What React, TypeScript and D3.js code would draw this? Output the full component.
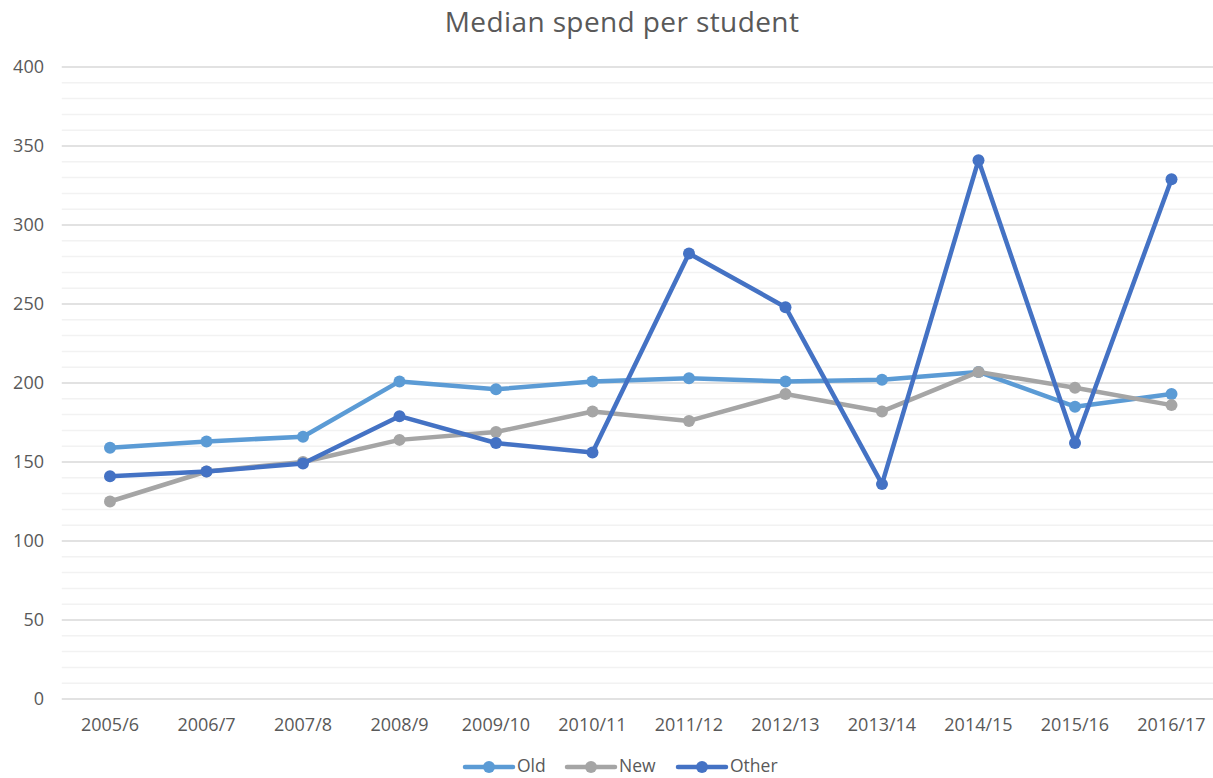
import React, { useEffect, useRef } from "react";
import * as d3 from "d3";

const categories = ["2005/6","2006/7","2007/8","2008/9","2009/10","2010/11","2011/12","2012/13","2013/14","2014/15","2015/16","2016/17"];
const oldValues = [159, 163, 166, 201, 196, 201, 203, 201, 202, 207, 185, 193];
const newValues = [125, 144, 150, 164, 169, 182, 176, 193, 182, 207, 197, 186];
const otherValues = [141, 144, 149, 179, 162, 156, 282, 248, 136, 341, 162, 329];
const yTicks = [0, 50, 100, 150, 200, 250, 300, 350, 400];
const seriesNames = ["Old", "New", "Other"];
const seriesColors = ["#5B9BD5", "#A5A5A5", "#4472C4"];

const W = 1213, H = 778;
const FONT = "'Open Sans', 'DejaVu Sans', sans-serif";

export default function App() {
  const ref = useRef<SVGSVGElement>(null);
  useEffect(() => {
    const svg = d3.select(ref.current);
    svg.selectAll("*").remove();
    const left = 61.75, right = 1219.75, top = 67, bottom = 699;
    const x = d3.scaleBand().domain(categories).range([left, right]);
    const y = d3.scaleLinear().domain([0, 400]).range([bottom, top]);
    const cx = (c: string) => (x(c) as number) + x.bandwidth() / 2;

    // minor gridlines
    const minor = d3.range(0, 401, 10).filter(v => v % 50 !== 0);
    svg.append("g").selectAll("line").data(minor).join("line")
      .attr("x1", left).attr("x2", W).attr("y1", d => y(d)).attr("y2", d => y(d))
      .attr("stroke", "#F2F2F2").attr("stroke-width", 1.5);
    svg.append("g").selectAll("line").data(yTicks).join("line")
      .attr("x1", left).attr("x2", W).attr("y1", d => y(d)).attr("y2", d => y(d))
      .attr("stroke", "#D9D9D9").attr("stroke-width", 1.5);

    // y labels
    svg.append("g").selectAll("text").data(yTicks).join("text")
      .attr("x", 44).attr("y", d => y(d)).attr("dy", "0.35em")
      .attr("text-anchor", "end").attr("font-family", FONT).attr("font-size", 18)
      .attr("fill", "#595959").text(d => d);

    // x labels
    svg.append("g").selectAll("text").data(categories).join("text")
      .attr("x", d => cx(d)).attr("y", 725).attr("dy", "0.35em")
      .attr("text-anchor", "middle").attr("font-family", FONT).attr("font-size", 18)
      .attr("fill", "#595959").text(d => d);

    // title
    svg.append("text").attr("x", 622).attr("y", 32)
      .attr("text-anchor", "middle").attr("font-family", FONT).attr("font-size", 28)
      .attr("letter-spacing", 0.4)
      .attr("fill", "#595959").text("Median spend per student");

    const allSeries = [oldValues, newValues, otherValues];
    const line = d3.line<number>().x((_, i) => cx(categories[i])).y(d => y(d));
    allSeries.forEach((vals, si) => {
      const g = svg.append("g");
      g.append("path").attr("d", line(vals) as string).attr("fill", "none")
        .attr("stroke", seriesColors[si]).attr("stroke-width", 4.5)
        .attr("stroke-linejoin", "round").attr("stroke-linecap", "round");
      g.selectAll("circle").data(vals).join("circle")
        .attr("cx", (_, i) => cx(categories[i])).attr("cy", d => y(d)).attr("r", 6)
        .attr("fill", seriesColors[si]);
    });

    // legend
    const legendX = [465, 567, 678];
    const ly = 767;
    seriesNames.forEach((name, i) => {
      const g = svg.append("g");
      g.append("line").attr("x1", legendX[i]).attr("x2", legendX[i] + 48)
        .attr("y1", ly).attr("y2", ly).attr("stroke", seriesColors[i]).attr("stroke-width", 4.5)
        .attr("stroke-linecap", "round");
      g.append("circle").attr("cx", legendX[i] + 24).attr("cy", ly).attr("r", 6).attr("fill", seriesColors[i]);
      g.append("text").attr("x", legendX[i] + 52).attr("y", 772)
        .attr("font-family", FONT).attr("font-size", 17.5).attr("fill", "#595959").text(name);
    });
  }, []);
  return (
    <svg ref={ref} width={W} height={H} style={{ position: "absolute", left: 0, top: 0, background: "#fff" }} />
  );
}
